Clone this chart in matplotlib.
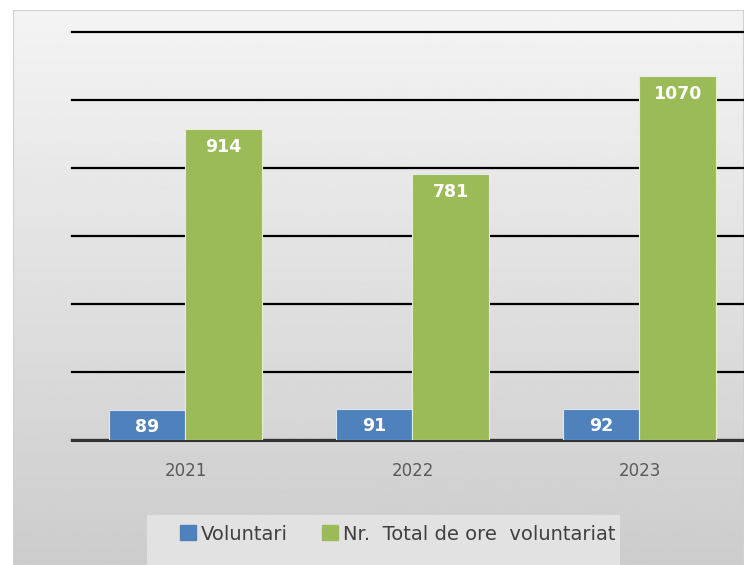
import numpy as np
import matplotlib.pyplot as plt
from matplotlib.patches import Rectangle

years = ['2021', '2022', '2023']
voluntari = [89, 91, 92]
ore = [914, 781, 1070]
labels = ['Voluntari', 'Nr.  Total de ore  voluntariat']

W, H = 744, 565
fig = plt.figure(figsize=(W / 100, H / 100), dpi=100, facecolor='white')

# gradient background of the chart area
bg = fig.add_axes([13 / W, 0, 1 - 13 / W, (H - 10) / H])
grad = np.linspace(0.955, 0.80, 256).reshape(-1, 1)
bg.imshow(grad, aspect='auto', cmap='gray', vmin=0, vmax=1, extent=[0, 1, 0, 1])
bg.set_axis_off()
bg.add_patch(Rectangle((0, 0), 1, 1, transform=bg.transAxes, fill=False,
                       edgecolor='#d0d0d0', lw=1.5))

# main axes (right part is cut off like in the reference)
left, right = 72, 753
bottom, top = H - 440, H - 32
ax = fig.add_axes([left / W, bottom / H, (right - left) / W, (top - bottom) / H])
ax.patch.set_alpha(0)

x = np.arange(len(years))
w = 0.335
b1 = ax.bar(x - w / 2, voluntari, w, color='#4f81bd', edgecolor='#dce6f2', lw=0.8, zorder=3)
b2 = ax.bar(x + w / 2, ore, w, color='#9bbb59', edgecolor='#e6eedb', lw=0.8, zorder=3)

ax.set_xlim(-0.5, 2.5)
ax.set_ylim(0, 1200)
ax.set_yticks(np.arange(0, 1201, 200))
ax.yaxis.grid(True, color='black', lw=1.6, zorder=1)
for gl in ax.get_ygridlines():
    gl.set_clip_on(False)
ax.tick_params(axis='y', length=0, labelleft=False)
ax.tick_params(axis='x', length=0, pad=16, labelsize=12, labelcolor='#595959')
ax.set_xticks(x)
ax.set_xticklabels(years)
for s in ['top', 'right', 'left']:
    ax.spines[s].set_visible(False)
ax.spines['bottom'].set_color('#333333')
ax.spines['bottom'].set_linewidth(2.2)

for bars in (b1, b2):
    for r in bars:
        ax.annotate(str(int(r.get_height())), (r.get_x() + r.get_width() / 2, r.get_height()),
                    xytext=(0, -6), textcoords='offset points', ha='center', va='top',
                    color='white', fontsize=12.5, fontweight='bold', zorder=4)

# legend box
lb = fig.add_axes([147 / W, 0, (620 - 147) / W, 50 / H])
lb.set_facecolor('#e2e2e2')
for s in lb.spines.values():
    s.set_visible(False)
lb.set_xticks([])
lb.set_yticks([])
h1 = Rectangle((0, 0), 1, 1, color='#4f81bd')
h2 = Rectangle((0, 0), 1, 1, color='#9bbb59')
lb.legend([h1, h2], labels, loc='upper center', bbox_to_anchor=(0.53, 1.16), ncol=2,
          frameon=False, fontsize=14, handlelength=0.8, handleheight=0.8,
          handletextpad=0.25, columnspacing=1.8, labelcolor='#404040')

fig.savefig('out.png', dpi=100)
